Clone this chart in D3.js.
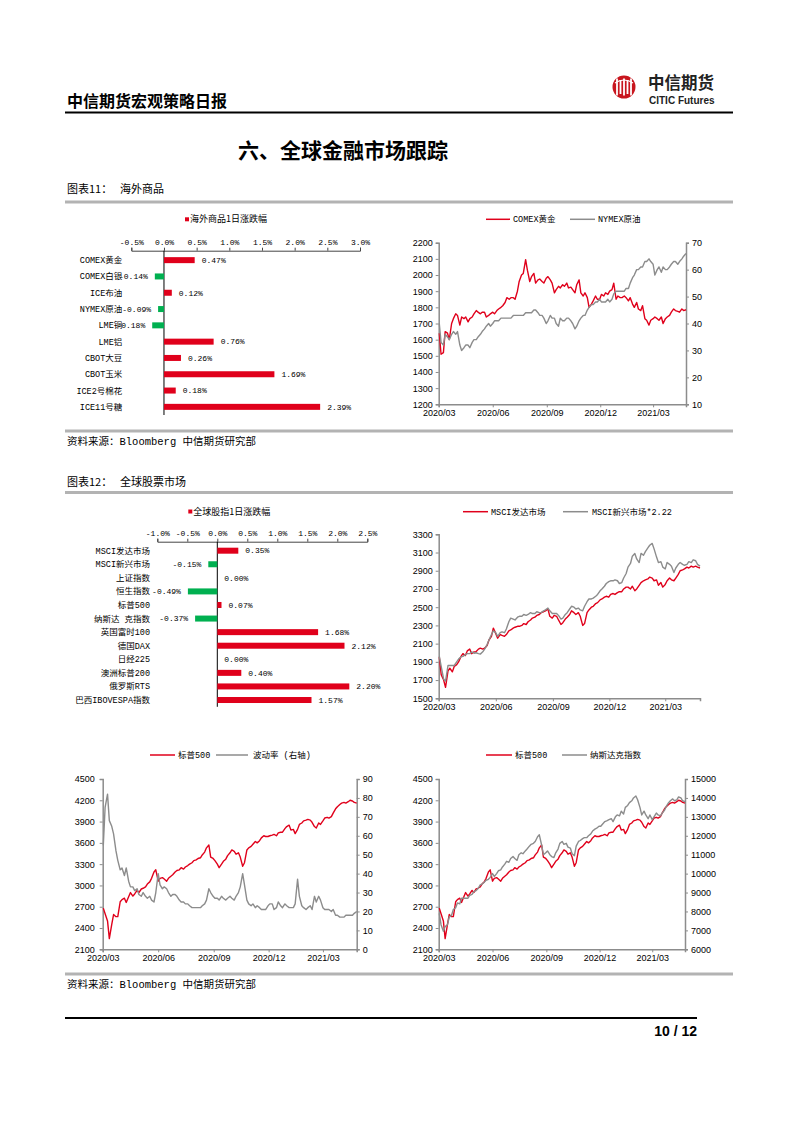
<!DOCTYPE html>
<html><head><meta charset="utf-8">
<script src="https://cdn.jsdelivr.net/npm/d3@7"></script>
<style>body{margin:0;background:#fff} svg{display:block}</style>
</head><body><svg id="page" width="793" height="1122"></svg>
<script>
// ---------------- DATA ----------------
const commodityNames = ["COMEX黄金","COMEX白银","ICE布油","NYMEX原油","LME铜","LME铝","CBOT大豆","CBOT玉米","ICE2号棉花","ICE11号糖"];
const commodityChange = [0.47,-0.14,0.12,-0.09,-0.18,0.76,0.26,1.69,0.18,2.39];
const commodityTicks = [-0.5,0,0.5,1.0,1.5,2.0,2.5,3.0];

const indexNames = ["MSCI发达市场","MSCI新兴市场","上证指数","恒生指数","标普500","纳斯达 克指数","英国富时100","德国DAX","日经225","澳洲标普200","俄罗斯RTS","巴西IBOVESPA指数"];
const indexChange = [0.35,-0.15,0.00,-0.49,0.07,-0.37,1.68,2.12,0.00,0.40,2.20,1.57];
const indexTicks = [-1.0,-0.5,0,0.5,1.0,1.5,2.0,2.5];

// observation dates: Mondays and Thursdays, 2020-03-02 .. 2021-04-26
const dates = d3.timeMonday.range(new Date(2020,2,2), new Date(2021,3,27))
  .concat(d3.timeThursday.range(new Date(2020,2,2), new Date(2021,3,27)))
  .sort((a,b)=>a-b);
const quarterTicks = [new Date(2020,2,1),new Date(2020,5,1),new Date(2020,8,1),new Date(2020,11,1),new Date(2021,2,1)];

const gold = [1640,1510,1520,1650,1640,1600,1700,1730,1760,1750,1690,1740,1730,1740,1710,1730,1740,1760,1780,1770,
 1760,1770,1770,1740,1750,1760,1770,1760,1780,1790,1800,1810,1830,1860,1850,1860,1860,1850,1900,1960,
 2000,2010,2095,2030,1960,1990,2010,1950,1970,1975,1960,1950,1980,1990,1970,1950,1890,1910,1930,1920,
 1940,1930,1950,1920,1925,1910,1890,1940,1970,1890,1870,1890,1860,1800,1820,1840,1870,1850,1850,1880,
 1870,1890,1880,1900,1910,1950,1850,1870,1860,1860,1870,1860,1840,1860,1820,1800,1830,1790,1780,1810,
 1730,1720,1690,1720,1730,1740,1730,1720,1740,1700,1730,1740,1750,1770,1790,1780,1775,1770,1790,1780,
 1785];
const oil = [40,33,32,36,35,34,36,37,36,37,32,30,31,32,32,31,33,34,34,35,
 36,37,38,39,40,39,40,41,41,41,42,42,42,42,42,42,43,43,43,43,
 43,43,44,44,44,44,45,45,44,43,43,42,40,41,43,42,42,40,39,42,
 41,41,42,42,41,40,38,39,41,42,43,43,45,46,47,47,48,48,49,48,
 48,48,49,48,49,51,52,52,52,52,52,53,53,55,57,58,60,60,61,61,
 63,63,64,63,62,58,60,61,59,61,60,60,61,62,63,63,62,63,64,65,
 66];
const msciDev = [1950,1760,1700,1620,1800,1830,1790,1850,1870,1900,1960,1990,1970,2020,2040,1990,2010,2010,2040,2050,
 2040,2050,2080,2140,2180,2270,2210,2160,2200,2190,2180,2200,2240,2250,2270,2280,2290,2290,2300,2320,
 2310,2340,2360,2380,2390,2410,2420,2440,2450,2460,2480,2400,2380,2410,2400,2360,2310,2330,2370,2390,
 2420,2460,2440,2420,2440,2400,2300,2320,2440,2470,2500,2510,2540,2550,2580,2590,2610,2620,2610,2640,
 2650,2640,2660,2670,2670,2700,2720,2720,2700,2730,2680,2700,2740,2770,2790,2800,2810,2830,2820,2790,
 2800,2740,2770,2720,2750,2790,2820,2800,2790,2820,2860,2900,2910,2920,2940,2930,2950,2940,2950,2940,
 2930];
const msciEm = [1960,1850,1710,1690,1860,1860,1860,1860,1900,1930,1955,1960,1980,1990,1990,2010,1995,2000,1990,1985,
 2010,2040,2090,2140,2200,2240,2220,2180,2220,2230,2220,2260,2340,2380,2370,2360,2390,2400,2400,2420,
 2410,2420,2440,2430,2430,2450,2440,2440,2460,2470,2490,2460,2430,2430,2430,2410,2370,2380,2420,2440,
 2480,2510,2500,2480,2490,2470,2460,2510,2560,2590,2590,2600,2620,2640,2680,2700,2730,2760,2780,2790,
 2790,2800,2790,2760,2770,2820,2870,2940,2980,3060,3090,3030,2990,3090,3070,3110,3150,3180,3200,3140,
 3050,2990,3000,2940,2920,2990,2970,2950,2880,2930,2970,2990,2970,2960,2970,3000,2990,3020,3010,2970,
 2950];
const spx = [2680,2600,2500,2250,2450,2590,2560,2560,2770,2800,2820,2760,2840,2900,2850,2880,2930,2900,2950,2960,
 2980,3020,3050,3100,3190,3220,3060,3100,3110,3090,3060,3100,3130,3150,3190,3210,3220,3250,3230,3260,
 3280,3300,3320,3350,3360,3380,3390,3430,3470,3530,3570,3400,3380,3350,3300,3250,3300,3340,3370,3420,
 3460,3500,3480,3440,3460,3400,3270,3320,3500,3530,3550,3580,3620,3600,3630,3670,3700,3690,3690,3700,
 3710,3720,3700,3740,3750,3750,3800,3830,3850,3780,3790,3730,3790,3860,3880,3910,3920,3930,3920,3890,
 3830,3810,3880,3860,3910,3950,3960,3950,3970,4020,4080,4110,4140,4160,4170,4160,4180,4200,4190,4170,
 4160];
const vix = [55,75,82,68,65,61,52,47,42,43,39,43,36,33,33,31,32,29,28,30,
 28,27,28,26,25,30,40,34,32,33,32,30,28,29,29,28,26,25,25,24,
 24,23,22,22,22,22,22,23,24,26,32,30,28,27,27,26,28,27,26,27,
 28,27,26,28,30,33,40,34,26,24,23,24,22,23,22,21,21,21,23,24,
 24,21,22,25,23,22,24,23,22,22,22,24,37,28,23,22,21,22,23,21,
 28,25,28,26,22,21,21,21,20,21,18,18,17,17,17,18,18,18,18,19,
 20];
const nasdaq = [7900,7300,6950,7200,7300,7700,7800,8100,8200,8450,8400,8700,8700,8700,8700,8850,8900,9050,9100,9200,
 9400,9450,9550,9650,9700,9800,10000,9850,10000,10150,10200,10350,10500,10650,10600,10800,10900,10800,10700,11000,
 11100,11050,11200,11300,11450,11550,11600,11700,11950,12050,11500,11000,11100,11200,11000,10900,10850,11100,11300,11600,
 11700,11550,11600,11400,11350,11050,10950,11450,11700,11750,11850,11900,11900,12000,12100,12250,12350,12400,12500,12500,
 12650,12750,12800,12850,12900,12750,13000,13100,13050,13300,13150,13500,13600,13750,13850,14000,14100,13900,13500,13100,
 13300,13100,12900,13100,12850,13000,13200,13100,13050,13200,13350,13550,13750,13850,13950,13850,13900,14050,14000,13850,
 13800];

// ---------------- STYLE ----------------
const RED = "#e0001b", GREEN = "#00b050", GRAY = "#8c8c8c";
const CJK = "'Noto Sans CJK SC', sans-serif";
const MONO = "'Liberation Mono','Noto Sans CJK SC',monospace";
const ARIAL = "'Liberation Sans', Arial, sans-serif";

const svg = d3.select("#page");
svg.append("rect").attr("width",793).attr("height",1122).attr("fill","#fff");

// ---------------- PAGE FRAME ----------------
svg.append("text").attr("x",67).attr("y",107).attr("font-family",CJK).attr("font-weight","bold")
  .attr("font-size",16).attr("fill","#000").text("中信期货宏观策略日报");
svg.append("line").attr("x1",65).attr("x2",733).attr("y1",112.5).attr("y2",112.5).attr("stroke","#000").attr("stroke-width",2);
// logo
const logo = svg.append("g");
logo.append("circle").attr("cx",624).attr("cy",87).attr("r",11.5).attr("fill","#c8161e");
[-7,-3.5,0,3.5,7].forEach((dx,i)=>{
  logo.append("rect").attr("x",624+dx-0.9).attr("y",87-(i%2?7:8.5)).attr("width",1.8).attr("height",i%2?14:17).attr("fill","#fff");
});
logo.append("path").attr("d","M615 83 Q624 77 633 83").attr("fill","none").attr("stroke","#fff").attr("stroke-width",1.2);
logo.append("text").attr("x",648).attr("y",89).attr("font-family",CJK).attr("font-weight","bold")
  .attr("font-size",16.5).attr("fill","#222").text("中信期货");
logo.append("text").attr("x",649).attr("y",103.5).attr("font-family",ARIAL).attr("font-weight","bold")
  .attr("font-size",10).attr("fill","#222").text("CITIC Futures");

svg.append("text").attr("x",343).attr("y",158).attr("text-anchor","middle").attr("font-family",CJK)
  .attr("font-weight","bold").attr("font-size",21).attr("fill","#000").text("六、全球金融市场跟踪");

function section(y, label, title){
  svg.append("text").attr("x",67).attr("y",y).attr("font-family",CJK).attr("font-size",11).attr("fill","#000").text(label);
  svg.append("text").attr("x",120).attr("y",y).attr("font-family",CJK).attr("font-size",11).attr("fill","#000").text(title);
}
function grayRule(y){
  svg.append("line").attr("x1",65).attr("x2",733).attr("y1",y).attr("y2",y).attr("stroke","#b3b3b3").attr("stroke-width",3);
}
function source(y){
  svg.append("text").attr("x",67).attr("y",y).attr("font-family",MONO).attr("font-size",10.5).attr("fill","#000")
    .text("资料来源：Bloomberg 中信期货研究部");
}
section(193,"图表11：","海外商品"); grayRule(202);
grayRule(431); source(445);
section(486,"图表12：","全球股票市场"); grayRule(492.5);
grayRule(974); source(988);

svg.append("line").attr("x1",65).attr("x2",697).attr("y1",1018).attr("y2",1018).attr("stroke","#000").attr("stroke-width",2);
svg.append("text").attr("x",697).attr("y",1036).attr("text-anchor","end").attr("font-family",ARIAL)
  .attr("font-weight","bold").attr("font-size",14).attr("fill","#000").text("10 / 12");

// ---------------- BAR CHART ----------------
function barChart(c){
  const g = svg.append("g");
  const x = d3.scaleLinear().domain(c.domain).range(c.xRange);
  const y = d3.scaleBand().domain(c.names).range(c.yRange);
  const ax = g.append("g").attr("transform",`translate(0,${c.axisY})`)
    .call(d3.axisTop(x).tickValues(c.ticks).tickSize(3).tickPadding(3).tickFormat(v=>v.toFixed(1)+"%"));
  ax.select(".domain").attr("stroke","#444");
  ax.selectAll(".tick line").attr("stroke","#444");
  ax.selectAll("text").attr("font-family",MONO).attr("font-size",8).attr("fill","#000");
  g.append("line").attr("x1",x(0)).attr("x2",x(0)).attr("y1",c.axisY).attr("y2",c.yRange[1]).attr("stroke","#000").attr("stroke-width",1);
  const rows = g.selectAll(".row").data(c.names.map((n,i)=>({n,v:c.values[i]}))).enter().append("g");
  rows.append("rect")
    .attr("x",d=>Math.min(x(0),x(d.v))).attr("width",d=>Math.abs(x(d.v)-x(0)))
    .attr("y",d=>y(d.n)+y.bandwidth()/2-3).attr("height",6)
    .attr("fill",d=>d.v<0?GREEN:RED);
  rows.append("text").attr("x",c.labelX).attr("y",d=>y(d.n)+y.bandwidth()/2).attr("dy","0.35em")
    .attr("text-anchor","end").attr("font-family",MONO).attr("font-size",8.5).attr("fill","#000").text(d=>d.n);
  rows.append("text")
    .attr("x",d=>d.v<0?x(d.v)-7:x(d.v)+7)
    .attr("y",d=>y(d.n)+y.bandwidth()/2).attr("dy","0.35em")
    .attr("text-anchor",d=>d.v<0?"end":"start")
    .attr("font-family",MONO).attr("font-size",8).attr("fill","#000").text(d=>d.v.toFixed(2)+"%");
  g.append("rect").attr("x",c.legend.x).attr("y",c.legend.y-2).attr("width",4).attr("height",4).attr("fill",RED);
  g.append("text").attr("x",c.legend.x+5).attr("y",c.legend.y).attr("dy","0.35em").attr("font-family",CJK)
    .attr("font-size",9).attr("fill","#000").text(c.legend.text);
}
barChart({names:commodityNames, values:commodityChange, ticks:commodityTicks, domain:[-0.5,3.0],
  xRange:[131.3,360], yRange:[252,415], axisY:250.7, labelX:122.3,
  legend:{x:185,y:219.3,text:"海外商品1日涨跌幅"}});
barChart({names:indexNames, values:indexChange, ticks:indexTicks, domain:[-1.0,2.5],
  xRange:[157.3,367.3], yRange:[543.9,706.8], axisY:541.7, labelX:150,
  legend:{x:188.3,y:511.5,text:"全球股指1日涨跌幅"}});

// ---------------- LINE CHART ----------------
function lineChart(c){
  const g = svg.append("g");
  const x = d3.scaleTime().domain([new Date(2020,2,1), new Date(2021,3,26)]).range([c.left,c.right]);
  const yL = d3.scaleLinear().domain(c.lDomain).range([c.bottom,c.top]);
  const yR = c.rDomain ? d3.scaleLinear().domain(c.rDomain).range([c.bottom,c.top]) : null;
  function style(a){
    a.select(".domain").attr("stroke",GRAY).attr("stroke-width",1.5);
    a.selectAll(".tick line").attr("stroke",GRAY);
    a.selectAll("text").attr("font-family",ARIAL).attr("font-size",9).attr("fill","#000");
  }
  g.append("g").attr("transform",`translate(${c.left},0)`)
    .call(d3.axisLeft(yL).tickValues(c.lTicks).tickSize(3).tickPadding(c.lPad||3).tickFormat(d3.format("d"))).call(style);
  if(yR){
    g.append("g").attr("transform",`translate(${c.right},0)`)
      .call(d3.axisRight(yR).tickValues(c.rTicks).tickSize(3).tickPadding(3).tickFormat(d3.format("d"))).call(style);
  }
  g.append("g").attr("transform",`translate(0,${c.bottom})`)
    .call(d3.axisBottom(x).tickValues(quarterTicks).tickSize(3).tickPadding(2).tickFormat(d3.timeFormat("%Y/%m"))).call(style);
  c.series.forEach(s=>{
    const ys = s.axis==="r" ? yR : yL;
    g.append("path").datum(s.values)
      .attr("d", d3.line().x((d,i)=>x(dates[i])).y(d=>ys(d)))
      .attr("fill","none").attr("stroke",s.color).attr("stroke-width",1.4).attr("stroke-linejoin","round");
    g.append("line").attr("x1",s.lx1).attr("x2",s.lx2).attr("y1",c.legendY).attr("y2",c.legendY)
      .attr("stroke",s.color).attr("stroke-width",1.5);
    g.append("text").attr("x",s.tx).attr("y",c.legendY).attr("dy","0.35em").attr("font-family",MONO)
      .attr("font-size",8.5).attr("fill","#000").text(s.label);
  });
}
lineChart({left:438.7,right:686,top:242.7,bottom:404.3,
  lDomain:[1200,2200], lTicks:d3.range(1200,2201,100), rDomain:[10,70], rTicks:d3.range(10,71,10),
  legendY:219.3,
  series:[{values:gold,color:RED,label:"COMEX黄金",lx1:486,lx2:510,tx:513},
          {values:oil,axis:"r",color:GRAY,label:"NYMEX原油",lx1:570,lx2:595,tx:598}]});
lineChart({left:438.7,right:700,top:534.3,bottom:698.3,
  lDomain:[1500,3300], lTicks:d3.range(1500,3301,200),
  legendY:511.7,
  series:[{values:msciDev,color:RED,label:"MSCI发达市场",lx1:463,lx2:488,tx:491},
          {values:msciEm,color:GRAY,label:"MSCI新兴市场*2.22",lx1:563,lx2:588,tx:592}]});
lineChart({left:102.7,right:356.7,top:779,bottom:949.3,lPad:5,
  lDomain:[2100,4500], lTicks:d3.range(2100,4501,300), rDomain:[0,90], rTicks:d3.range(0,91,10),
  legendY:755,
  series:[{values:spx,color:RED,label:"标普500",lx1:150,lx2:175,tx:178},
          {values:vix,axis:"r",color:GRAY,label:"波动率 (右轴)",lx1:216,lx2:248,tx:253}]});
lineChart({left:438.7,right:685,top:779,bottom:949.3,
  lDomain:[2100,4500], lTicks:d3.range(2100,4501,300), rDomain:[6000,15000], rTicks:d3.range(6000,15001,1000),
  legendY:755,
  series:[{values:spx,color:RED,label:"标普500",lx1:486,lx2:512,tx:515},
          {values:nasdaq,axis:"r",color:GRAY,label:"纳斯达克指数",lx1:562,lx2:587,tx:590}]});
</script></body></html>
